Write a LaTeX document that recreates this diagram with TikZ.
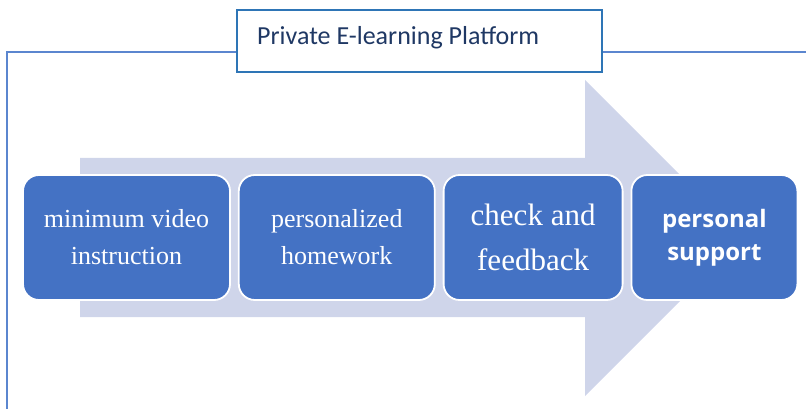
\documentclass[tikz,border=0pt]{standalone}
\usepackage{fontspec}
\usetikzlibrary{positioning}
\newfontfamily\titlefont{Carlito}
\newfontfamily\boxfont{Liberation Serif}
\newfontfamily\supportfont{Open Sans}
\definecolor{framelineblue}{HTML}{5B86CF}
\definecolor{titleblue}{HTML}{2E75B6}
\definecolor{titletext}{HTML}{1F3864}
\definecolor{arrowfill}{HTML}{CFD5EA}
\definecolor{boxblue}{HTML}{4472C4}
\tikzset{
  stepbox/.style={draw=white, line width=1.8pt, fill=boxblue, rounded corners=16pt,
    minimum height=125pt, align=center, text=white, inner sep=2pt},
}
\begin{document}
\begin{tikzpicture}[x=1pt,y=-1pt]
        \useasboundingbox (0,0) rectangle (806,409);
        % frame
        \draw[framelineblue, line width=1.6pt] (7,409)--(7,52)--(806,52);
        % arrow
        \fill[arrowfill] (80,158)--(585,158)--(585,80)--(743,238)--(585,396)--(585,317)--(80,317)--cycle;
        % title
        \node[draw=titleblue, line width=1.4pt, fill=white, minimum width=365pt, minimum height=62pt, text=titletext, inner sep=0pt] (title) at (419.5,41){};
        \node[text=titletext, font=\titlefont\fontsize{26}{30}\selectfont, anchor=west, inner sep=0pt] (titletxt) at (257,38){Private E-learning Platform};
        % steps
        \node[stepbox, minimum width=207pt, font=\boxfont\fontsize{26}{37}\selectfont] (video) at (126.5,237.5){minimum video\\ instruction};
        \node[stepbox, minimum width=196pt, right=7pt of video, font=\boxfont\fontsize{26}{37}\selectfont] (homework){personalized\\ homework};
        \node[stepbox, minimum width=179pt, right=7pt of homework, font=\boxfont\fontsize{31}{45}\selectfont] (feedback){check and\\ feedback};
        \node[stepbox, minimum width=166pt, right=7pt of feedback, font=\supportfont\bfseries\fontsize{24}{33}\selectfont] (support){personal\\ support};
    \end{tikzpicture}
\end{document}
